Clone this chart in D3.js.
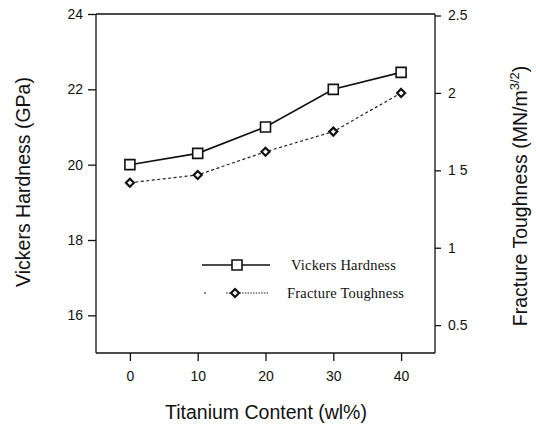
<!DOCTYPE html>
<html><head><meta charset="utf-8">
<script src="https://cdn.jsdelivr.net/npm/d3@7"></script>
<style>
body{margin:0;background:#fff;}
svg{display:block;}
.ax text{font-family:"Liberation Sans",Arial,sans-serif;font-size:14px;fill:#111;}
.ax path,.ax line{stroke:#111;stroke-width:1.3;}
</style></head>
<body>
<svg id="c" width="536" height="427"></svg>
<script>
const titanium = [0, 10, 20, 30, 40];
const hardness = [20.0, 20.3, 21.0, 22.0, 22.45];
const toughness = [1.42, 1.47, 1.62, 1.75, 2.0];
const xTicks = [0, 10, 20, 30, 40];
const leftTicks = [16, 18, 20, 22, 24];
const rightTicks = [0.5, 1, 1.5, 2, 2.5];
const rightTickLabels = ["0.5", "1", "1 5", "2", "2.5"];
const seriesNames = ["Vickers Hardness", "Fracture Toughness"];

const svg = d3.select("#c");
const L = 96, R = 435, T = 14, B = 353;
const x = d3.scaleLinear().domain([-5, 45]).range([L, R]);
const yL = d3.scaleLinear().domain([15, 24]).range([B, T]);
const yR = d3.scaleLinear().domain([0.32, 2.5]).range([B, T + 1.5]);

// frame
svg.append("line").attr("x1", L).attr("x2", R).attr("y1", T).attr("y2", T)
  .attr("stroke", "#111").attr("stroke-width", 1.3);

const gx = svg.append("g").attr("class", "ax").attr("transform", `translate(0,${B})`)
  .call(d3.axisBottom(x).tickValues(xTicks).tickSize(8).tickSizeOuter(0).tickPadding(10));
const gl = svg.append("g").attr("class", "ax").attr("transform", `translate(${L},0)`)
  .call(d3.axisLeft(yL).tickValues(leftTicks).tickSize(8).tickSizeOuter(0).tickPadding(5));
const gr = svg.append("g").attr("class", "ax").attr("transform", `translate(${R},0)`)
  .call(d3.axisRight(yR).tickValues(rightTicks).tickFormat((d, i) => rightTickLabels[i]).tickSize(6).tickSizeOuter(0).tickPadding(7));
gl.select(".domain").attr("d", `M0,${T}V${B}`);
gr.select(".domain").attr("d", `M0,${T}V${B}`);
gx.select(".domain").attr("d", `M${L},0H${R}`);

// lines
const lineH = d3.line().x((d, i) => x(titanium[i])).y(d => yL(d));
const lineT = d3.line().x((d, i) => x(titanium[i])).y(d => yR(d));
svg.append("path").attr("d", lineH(hardness)).attr("fill", "none").attr("stroke", "#111").attr("stroke-width", 1.6);
svg.append("path").attr("d", lineT(toughness)).attr("fill", "none").attr("stroke", "#222").attr("stroke-width", 1.2)
  .attr("stroke-dasharray", "3,2.5");

const sq = d3.symbol().type(d3.symbolSquare).size(100);
const diamond = {draw(ctx, size) { const r = Math.sqrt(size) / 2; ctx.moveTo(0, -r); ctx.lineTo(r, 0); ctx.lineTo(0, r); ctx.lineTo(-r, 0); ctx.closePath(); }};
const dm = d3.symbol().type(diamond).size(64);
svg.selectAll(".sq").data(hardness).join("path").attr("class", "sq")
  .attr("d", sq).attr("transform", (d, i) => `translate(${x(titanium[i])},${yL(d)})`)
  .attr("fill", "#fff").attr("stroke", "#111").attr("stroke-width", 1.6);
svg.selectAll(".dm").data(toughness).join("path").attr("class", "dm")
  .attr("d", dm).attr("transform", (d, i) => `translate(${x(titanium[i])},${yR(d)})`)
  .attr("fill", "#fff").attr("stroke", "#111").attr("stroke-width", 2.2);

// legend
const lg = svg.append("g");
lg.append("line").attr("x1", 202).attr("x2", 270).attr("y1", 265).attr("y2", 265).attr("stroke", "#111").attr("stroke-width", 1.6);
lg.append("path").attr("d", sq).attr("transform", "translate(237,265)").attr("fill", "#fff").attr("stroke", "#111").attr("stroke-width", 1.6);
lg.append("line").attr("x1", 204).attr("x2", 206).attr("y1", 293).attr("y2", 293).attr("stroke", "#111").attr("stroke-width", 1.2);
lg.append("line").attr("x1", 226).attr("x2", 268).attr("y1", 293).attr("y2", 293).attr("stroke", "#222").attr("stroke-width", 1.1).attr("stroke-dasharray", "1.5,1.2");
lg.append("path").attr("d", dm).attr("transform", "translate(235,293)").attr("fill", "#fff").attr("stroke", "#111").attr("stroke-width", 2.2);
lg.selectAll("text").data(seriesNames).join("text")
  .attr("x", (d, i) => i === 0 ? 291 : 287).attr("y", (d, i) => i === 0 ? 270 : 298)
  .attr("font-family", "'Liberation Serif','Times New Roman',serif").attr("font-size", 14.5)
  .attr("letter-spacing", 0.2).attr("fill", "#111").text(d => d);

// axis titles
const sans = "'Liberation Sans',Arial,sans-serif";
svg.append("text").attr("transform", "translate(30,182) rotate(-90)").attr("text-anchor", "middle")
  .attr("font-family", sans).attr("font-size", 19.5).attr("fill", "#111").text("Vickers Hardness (GPa)");
svg.append("text").attr("x", 266).attr("y", 419).attr("text-anchor", "middle")
  .attr("font-family", sans).attr("font-size", 19.5).attr("fill", "#111").text("Titanium Content (wl%)");
const rt = svg.append("text").attr("transform", "translate(527,196) rotate(-90)").attr("text-anchor", "middle")
  .attr("font-family", sans).attr("font-size", 19.5).attr("fill", "#111");
rt.append("tspan").text("Fracture Toughness (MN/m");
rt.append("tspan").attr("dy", -8).attr("font-size", 13).text("3/2");
rt.append("tspan").attr("dy", 8).text(")");
</script>
</body></html>
